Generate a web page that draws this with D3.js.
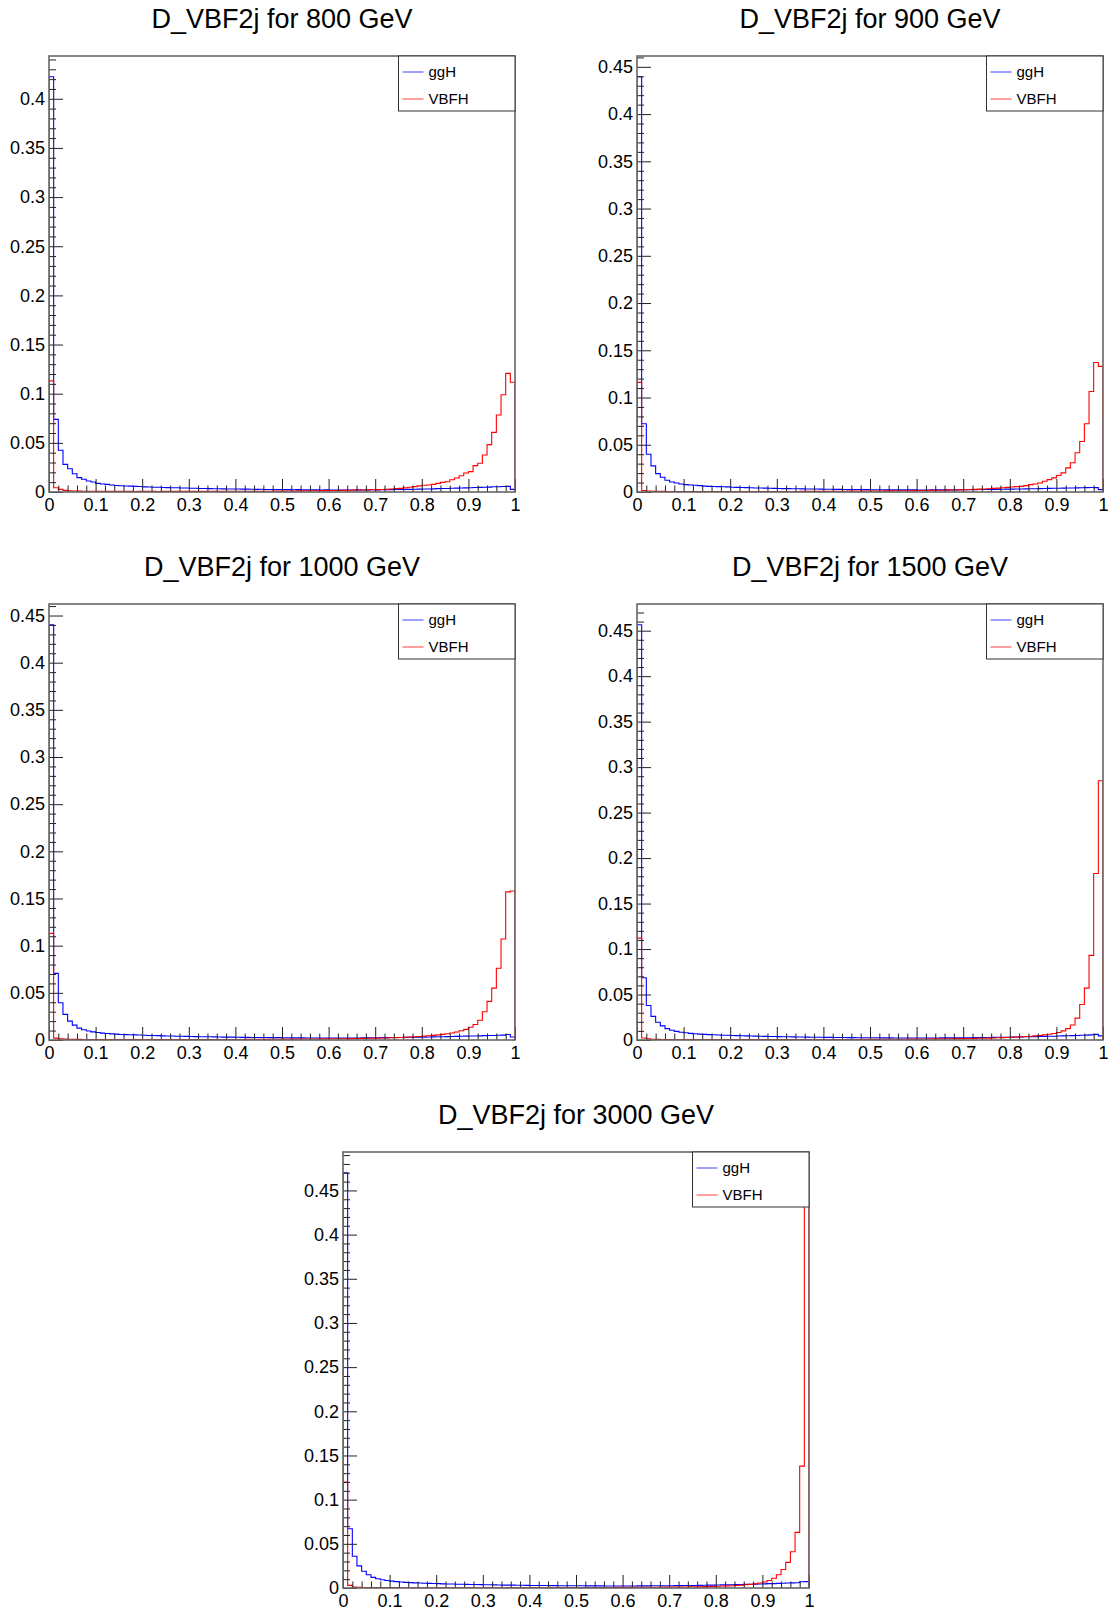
<!DOCTYPE html>
<html>
<head>
<meta charset="utf-8">
<script src="https://cdn.jsdelivr.net/npm/d3@7"></script>
<style>
  html, body { margin: 0; padding: 0; background: #fff; }
  svg { display: block; font-family: "Liberation Sans", Arial, Helvetica, sans-serif; }
</style>
</head>
<body>
<svg id="chart" width="1108" height="1611"></svg>
<script>
// ---------- DATA (100 bins of width 0.01 on [0,1]) ----------
const titles = ["D_VBF2j for 800 GeV", "D_VBF2j for 900 GeV", "D_VBF2j for 1000 GeV", "D_VBF2j for 1500 GeV", "D_VBF2j for 3000 GeV"];
const seriesNames = ["ggH", "VBFH"];
const xTickLabels = ["0", "0.1", "0.2", "0.3", "0.4", "0.5", "0.6", "0.7", "0.8", "0.9", "1"];

const ggH_800 = [
0.4224,0.0739,0.0424,0.0281,0.0237,0.0186,0.0146,0.0129,0.0112,0.0102,
0.0088,0.0081,0.0078,0.0071,0.0066,0.0064,0.0061,0.0060,0.0057,0.0056,
0.0052,0.0051,0.0049,0.0048,0.0046,0.0045,0.0043,0.0043,0.0041,0.0040,
0.0038,0.0038,0.0036,0.0036,0.0034,0.0033,0.0033,0.0032,0.0031,0.0031,
0.0030,0.0029,0.0029,0.0028,0.0027,0.0028,0.0026,0.0026,0.0025,0.0026,
0.0024,0.0024,0.0023,0.0024,0.0023,0.0022,0.0023,0.0022,0.0021,0.0022,
0.0021,0.0021,0.0020,0.0021,0.0020,0.0021,0.0022,0.0021,0.0022,0.0023,
0.0022,0.0023,0.0024,0.0024,0.0025,0.0026,0.0026,0.0027,0.0028,0.0029,
0.0030,0.0031,0.0032,0.0034,0.0035,0.0036,0.0038,0.0039,0.0041,0.0042,
0.0044,0.0046,0.0047,0.0049,0.0050,0.0053,0.0054,0.0056,0.0057,0.0027];
const VBFH_800 = [
0.1130,0.0044,0.0027,0.0017,0.0012,0.0010,0.0009,0.0008,0.0008,0.0007,
0.0007,0.0007,0.0006,0.0006,0.0006,0.0006,0.0006,0.0006,0.0005,0.0006,
0.0006,0.0006,0.0006,0.0005,0.0006,0.0006,0.0006,0.0006,0.0006,0.0006,
0.0006,0.0006,0.0006,0.0006,0.0007,0.0006,0.0007,0.0007,0.0007,0.0007,
0.0007,0.0007,0.0007,0.0008,0.0008,0.0008,0.0008,0.0008,0.0009,0.0009,
0.0009,0.0010,0.0010,0.0011,0.0011,0.0012,0.0012,0.0013,0.0014,0.0014,
0.0015,0.0016,0.0017,0.0017,0.0018,0.0019,0.0020,0.0021,0.0022,0.0023,
0.0024,0.0026,0.0028,0.0031,0.0034,0.0037,0.0042,0.0048,0.0055,0.0062,
0.0068,0.0071,0.0078,0.0088,0.0098,0.0105,0.0125,0.0142,0.0166,0.0193,
0.0207,0.0268,0.0292,0.0376,0.0482,0.0607,0.0783,0.0990,0.1207,0.1116];

const ggH_900 = [
0.4395,0.0723,0.0400,0.0277,0.0195,0.0156,0.0124,0.0106,0.0096,0.0085,
0.0078,0.0074,0.0071,0.0067,0.0062,0.0060,0.0059,0.0057,0.0056,0.0054,
0.0050,0.0049,0.0048,0.0046,0.0045,0.0043,0.0042,0.0041,0.0039,0.0038,
0.0037,0.0036,0.0036,0.0035,0.0034,0.0033,0.0032,0.0031,0.0031,0.0030,
0.0029,0.0029,0.0028,0.0028,0.0027,0.0027,0.0026,0.0026,0.0025,0.0025,
0.0024,0.0024,0.0024,0.0023,0.0023,0.0023,0.0022,0.0022,0.0022,0.0022,
0.0021,0.0021,0.0021,0.0022,0.0022,0.0022,0.0023,0.0023,0.0023,0.0024,
0.0024,0.0025,0.0025,0.0026,0.0026,0.0027,0.0028,0.0028,0.0029,0.0030,
0.0030,0.0031,0.0032,0.0033,0.0034,0.0035,0.0036,0.0037,0.0038,0.0039,
0.0040,0.0041,0.0042,0.0043,0.0044,0.0045,0.0046,0.0047,0.0046,0.0025];
const VBFH_900 = [
0.1160,0.0016,0.0010,0.0008,0.0007,0.0007,0.0006,0.0006,0.0006,0.0006,
0.0006,0.0006,0.0005,0.0005,0.0006,0.0005,0.0005,0.0005,0.0005,0.0006,
0.0005,0.0005,0.0005,0.0005,0.0006,0.0005,0.0006,0.0006,0.0006,0.0006,
0.0006,0.0006,0.0006,0.0006,0.0006,0.0007,0.0007,0.0007,0.0007,0.0007,
0.0007,0.0008,0.0008,0.0008,0.0008,0.0009,0.0009,0.0009,0.0010,0.0010,
0.0010,0.0011,0.0011,0.0012,0.0012,0.0013,0.0013,0.0014,0.0014,0.0015,
0.0016,0.0016,0.0017,0.0018,0.0018,0.0019,0.0020,0.0021,0.0022,0.0023,
0.0024,0.0026,0.0028,0.0030,0.0032,0.0035,0.0038,0.0041,0.0045,0.0049,
0.0053,0.0057,0.0060,0.0067,0.0078,0.0085,0.0096,0.0113,0.0131,0.0149,
0.0174,0.0202,0.0255,0.0309,0.0415,0.0535,0.0723,0.1064,0.1370,0.1330];

const ggH_1000 = [
0.4402,0.0706,0.0395,0.0272,0.0200,0.0158,0.0126,0.0108,0.0095,0.0086,
0.0079,0.0073,0.0069,0.0065,0.0062,0.0059,0.0057,0.0056,0.0054,0.0053,
0.0050,0.0048,0.0047,0.0046,0.0044,0.0043,0.0042,0.0040,0.0039,0.0038,
0.0037,0.0036,0.0035,0.0034,0.0034,0.0033,0.0032,0.0031,0.0030,0.0030,
0.0029,0.0028,0.0028,0.0027,0.0027,0.0026,0.0026,0.0025,0.0025,0.0025,
0.0024,0.0024,0.0023,0.0023,0.0023,0.0022,0.0022,0.0022,0.0022,0.0021,
0.0021,0.0021,0.0021,0.0022,0.0022,0.0022,0.0022,0.0023,0.0023,0.0024,
0.0024,0.0025,0.0025,0.0026,0.0026,0.0027,0.0028,0.0029,0.0029,0.0030,
0.0031,0.0032,0.0033,0.0034,0.0035,0.0036,0.0037,0.0038,0.0040,0.0041,
0.0042,0.0043,0.0044,0.0046,0.0047,0.0048,0.0050,0.0052,0.0058,0.0032];
const VBFH_1000 = [
0.1130,0.0020,0.0012,0.0009,0.0008,0.0007,0.0007,0.0006,0.0006,0.0006,
0.0006,0.0005,0.0005,0.0005,0.0005,0.0005,0.0005,0.0005,0.0005,0.0005,
0.0005,0.0005,0.0005,0.0005,0.0005,0.0005,0.0005,0.0005,0.0005,0.0005,
0.0005,0.0005,0.0005,0.0005,0.0005,0.0006,0.0006,0.0006,0.0006,0.0006,
0.0006,0.0006,0.0007,0.0007,0.0007,0.0007,0.0007,0.0008,0.0008,0.0008,
0.0009,0.0009,0.0009,0.0010,0.0010,0.0010,0.0011,0.0011,0.0012,0.0012,
0.0013,0.0013,0.0014,0.0014,0.0015,0.0016,0.0016,0.0017,0.0018,0.0019,
0.0020,0.0021,0.0022,0.0024,0.0025,0.0027,0.0029,0.0031,0.0034,0.0037,
0.0041,0.0045,0.0049,0.0054,0.0060,0.0067,0.0075,0.0085,0.0098,0.0113,
0.0135,0.0165,0.0210,0.0300,0.0410,0.0550,0.0760,0.1070,0.1570,0.1580];

const ggH_1500 = [
0.4565,0.0685,0.0380,0.0260,0.0195,0.0155,0.0125,0.0107,0.0095,0.0086,
0.0079,0.0073,0.0069,0.0065,0.0062,0.0059,0.0057,0.0055,0.0053,0.0052,
0.0050,0.0048,0.0047,0.0045,0.0044,0.0043,0.0041,0.0040,0.0039,0.0038,
0.0037,0.0036,0.0035,0.0034,0.0033,0.0033,0.0032,0.0031,0.0030,0.0030,
0.0029,0.0029,0.0028,0.0027,0.0027,0.0026,0.0026,0.0025,0.0025,0.0025,
0.0024,0.0024,0.0023,0.0023,0.0023,0.0022,0.0022,0.0022,0.0022,0.0022,
0.0022,0.0022,0.0022,0.0022,0.0022,0.0023,0.0023,0.0023,0.0024,0.0024,
0.0025,0.0025,0.0026,0.0027,0.0027,0.0028,0.0029,0.0030,0.0030,0.0031,
0.0032,0.0033,0.0034,0.0035,0.0036,0.0037,0.0039,0.0040,0.0041,0.0042,
0.0044,0.0045,0.0047,0.0048,0.0050,0.0052,0.0054,0.0056,0.0062,0.0045];
const VBFH_1500 = [
0.1120,0.0022,0.0012,0.0009,0.0007,0.0006,0.0006,0.0005,0.0005,0.0005,
0.0005,0.0005,0.0004,0.0004,0.0004,0.0004,0.0004,0.0004,0.0004,0.0004,
0.0004,0.0004,0.0004,0.0004,0.0004,0.0004,0.0004,0.0004,0.0004,0.0004,
0.0004,0.0004,0.0004,0.0004,0.0005,0.0005,0.0005,0.0005,0.0005,0.0005,
0.0005,0.0005,0.0005,0.0006,0.0006,0.0006,0.0006,0.0006,0.0007,0.0007,
0.0007,0.0007,0.0008,0.0008,0.0008,0.0009,0.0009,0.0009,0.0010,0.0010,
0.0010,0.0011,0.0011,0.0012,0.0012,0.0013,0.0013,0.0014,0.0015,0.0015,
0.0016,0.0017,0.0018,0.0019,0.0020,0.0021,0.0022,0.0024,0.0026,0.0028,
0.0030,0.0032,0.0035,0.0038,0.0041,0.0045,0.0050,0.0056,0.0063,0.0071,
0.0082,0.0100,0.0125,0.0165,0.0240,0.0390,0.0570,0.0930,0.1830,0.2850];

const ggH_3000 = [
0.4700,0.0670,0.0360,0.0250,0.0190,0.0150,0.0120,0.0105,0.0093,0.0085,
0.0078,0.0072,0.0068,0.0064,0.0061,0.0058,0.0056,0.0054,0.0052,0.0051,
0.0049,0.0047,0.0046,0.0045,0.0043,0.0042,0.0041,0.0040,0.0039,0.0038,
0.0037,0.0036,0.0035,0.0034,0.0033,0.0033,0.0032,0.0031,0.0031,0.0030,
0.0029,0.0029,0.0028,0.0028,0.0027,0.0027,0.0026,0.0026,0.0026,0.0025,
0.0025,0.0025,0.0024,0.0024,0.0024,0.0024,0.0023,0.0023,0.0023,0.0023,
0.0023,0.0023,0.0023,0.0024,0.0024,0.0024,0.0025,0.0025,0.0025,0.0026,
0.0026,0.0027,0.0027,0.0028,0.0029,0.0029,0.0030,0.0031,0.0032,0.0033,
0.0034,0.0035,0.0036,0.0037,0.0038,0.0040,0.0041,0.0042,0.0044,0.0045,
0.0047,0.0049,0.0050,0.0052,0.0054,0.0056,0.0058,0.0060,0.0070,0.0072];
const VBFH_3000 = [
0.1200,0.0030,0.0012,0.0008,0.0006,0.0005,0.0005,0.0004,0.0004,0.0004,
0.0004,0.0004,0.0003,0.0003,0.0003,0.0003,0.0003,0.0003,0.0003,0.0003,
0.0003,0.0003,0.0003,0.0003,0.0003,0.0003,0.0003,0.0003,0.0003,0.0003,
0.0003,0.0003,0.0003,0.0003,0.0003,0.0003,0.0004,0.0004,0.0004,0.0004,
0.0004,0.0004,0.0004,0.0004,0.0004,0.0004,0.0005,0.0005,0.0005,0.0005,
0.0005,0.0005,0.0005,0.0006,0.0006,0.0006,0.0006,0.0006,0.0007,0.0007,
0.0007,0.0007,0.0008,0.0008,0.0008,0.0009,0.0009,0.0009,0.0010,0.0010,
0.0011,0.0011,0.0012,0.0012,0.0013,0.0014,0.0015,0.0016,0.0017,0.0018,
0.0020,0.0022,0.0024,0.0026,0.0029,0.0032,0.0036,0.0041,0.0048,0.0057,
0.0068,0.0085,0.0110,0.0150,0.0210,0.0290,0.0410,0.0630,0.1380,0.4340];

// ---------- LAYOUT ----------
const panels = [
  { title: titles[0], ggH: ggH_800,  vbf: VBFH_800,  x: 49,  y: 56 },
  { title: titles[1], ggH: ggH_900,  vbf: VBFH_900,  x: 637, y: 56 },
  { title: titles[2], ggH: ggH_1000, vbf: VBFH_1000, x: 49,  y: 604 },
  { title: titles[3], ggH: ggH_1500, vbf: VBFH_1500, x: 637, y: 604 },
  { title: titles[4], ggH: ggH_3000, vbf: VBFH_3000, x: 343, y: 1152 }
];
const W = 466, H = 436;
const colors = ["#0000ff", "#ff0000"];
const svg = d3.select("#chart");

panels.forEach((p, pi) => {
  const g = svg.append("g").attr("transform", `translate(${p.x},${p.y})`);
  const ymax = 1.05 * d3.max(p.ggH);
  const x = d3.scaleLinear().domain([0, 1]).range([0, W]);
  const y = d3.scaleLinear().domain([0, ymax]).range([H, 0]);

  // title
  svg.append("text")
    .attr("x", p.x + W / 2).attr("y", p.y - 28)
    .attr("text-anchor", "middle")
    .attr("font-size", 27)
    .attr("fill", "#000")
    .text(p.title);

  // clip
  const cid = "clip" + pi;
  g.append("clipPath").attr("id", cid).append("rect").attr("width", W).attr("height", H);

  const line = d3.line().x(d => x(d[0])).y(d => y(d[1])).curve(d3.curveStepAfter);
  [p.ggH, p.vbf].forEach((vals, si) => {
    const n = vals.length;
    const pts = [[0, 0]].concat(vals.map((v, i) => [i / n, v]), [[1, vals[n - 1]], [1, 0]]);
    g.append("path")
      .attr("clip-path", `url(#${cid})`)
      .attr("d", line(pts))
      .attr("fill", "none")
      .attr("stroke", colors[si])
      .attr("stroke-width", 1.1);
  });

  // ticks
  const nMaj = Math.floor(ymax / 0.05 + 1e-9);
  const yMajor = d3.range(0, nMaj + 1).map(i => +(i * 0.05).toFixed(2));
  const nMin = Math.floor(ymax / 0.01 + 1e-9);
  const yMinor = d3.range(0, nMin + 1).map(i => +(i * 0.01).toFixed(2)).filter(v => Math.round(v * 100) % 5 !== 0);

  const yAxis = g.append("g").attr("class", "yaxis")
    .call(d3.axisLeft(y).tickValues(yMajor).tickSize(-14).tickPadding(4)
      .tickFormat(v => String(+v.toFixed(2))));
  g.append("g").attr("class", "yminor")
    .call(d3.axisLeft(y).tickValues(yMinor).tickSize(-7).tickFormat(""));

  const xMajor = xTickLabels.map(Number);
  const xMinor = d3.range(0, 51).map(i => +(i * 0.02).toFixed(2)).filter(v => Math.round(v * 100) % 10 !== 0);
  g.append("g").attr("class", "xaxis").attr("transform", `translate(0,${H})`)
    .call(d3.axisBottom(x).tickValues(xMajor).tickSize(-13).tickPadding(6)
      .tickFormat((v, i) => xTickLabels[i]));
  g.append("g").attr("class", "xminor").attr("transform", `translate(0,${H})`)
    .call(d3.axisBottom(x).tickValues(xMinor).tickSize(-6.5).tickFormat(""));

  g.selectAll(".domain").remove();
  g.selectAll(".tick line").attr("stroke", "#222").attr("stroke-width", 1);
  g.selectAll(".tick text").attr("font-size", 18).attr("fill", "#000")
    .attr("font-family", "Liberation Sans, Arial, sans-serif");

  // frame
  g.append("rect").attr("width", W).attr("height", H)
    .attr("fill", "none").attr("stroke", "#666").attr("stroke-width", 1.6);

  // legend
  const lx = W * 0.75, lw = W - lx, lh = 55;
  const lg = g.append("g").attr("transform", `translate(${lx},0)`);
  lg.append("rect").attr("width", lw).attr("height", lh)
    .attr("fill", "#fff").attr("stroke", "#333").attr("stroke-width", 1);
  seriesNames.forEach((name, si) => {
    const cy = 16 + si * 27;
    lg.append("line").attr("x1", 4).attr("x2", 25).attr("y1", cy).attr("y2", cy)
      .attr("stroke", colors[si]).attr("stroke-width", 1).attr("stroke-opacity", 0.75);
    lg.append("text").attr("x", 30).attr("y", cy).attr("dy", "0.35em")
      .attr("font-size", 15).attr("fill", "#000").text(name);
  });
});
</script>
</body>
</html>
